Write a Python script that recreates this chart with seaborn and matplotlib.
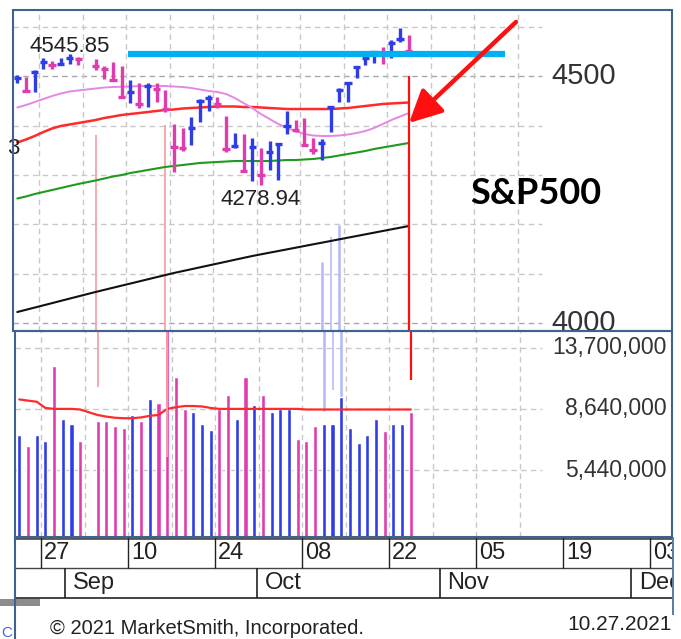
import numpy as np
import pandas as pd
import matplotlib
matplotlib.use("Agg")
import matplotlib.pyplot as plt
from matplotlib.patches import Rectangle
import seaborn as sns

# S&P 500 daily bars (25 Aug - 27 Oct 2021, 6 Sep holiday)
highs = [4501.7, 4498.5, 4513.3, 4537.4, 4531.4, 4537.1, 4545.85, 4539.5,
         4535.4, 4521.8, 4529.9, 4520.5, 4492.8, 4485.7, 4486.9, 4485.9, 4471.5,
         4403.0, 4394.9, 4416.8, 4454.0, 4463.1, 4457.3, 4419.5, 4385.5, 4382.6,
         4375.2, 4355.5, 4369.2, 4365.6, 4430.0, 4412.3, 4415.9, 4374.9, 4372.9,
         4439.7, 4475.8, 4488.8, 4520.4, 4540.9, 4551.4, 4559.7, 4572.6, 4598.5, 4584.6]
lows = [4485.7, 4468.3, 4468.4, 4513.8, 4515.8, 4522.0, 4524.7, 4522.4,
        4513.0, 4494.0, 4492.1, 4457.7, 4446.4, 4435.5, 4438.4, 4447.5, 4427.8,
        4305.9, 4348.0, 4360.2, 4406.7, 4430.3, 4436.2, 4346.3, 4355.1, 4306.2,
        4288.5, 4278.94, 4309.9, 4290.5, 4383.7, 4386.2, 4360.6, 4342.1, 4329.9,
        4386.1, 4447.7, 4447.5, 4496.4, 4522.0, 4526.9, 4524.0, 4537.4, 4569.2, 4551.7]
closes = [4496.2, 4470.0, 4509.4, 4528.8, 4522.7, 4524.1, 4537.0, 4535.4,
          4520.0, 4514.1, 4493.3, 4458.6, 4468.7, 4443.1, 4480.7, 4473.8, 4433.0,
          4357.7, 4354.2, 4395.6, 4449.0, 4455.5, 4443.1, 4352.6, 4359.5, 4307.5,
          4357.0, 4300.5, 4345.7, 4363.6, 4399.8, 4391.3, 4361.2, 4350.7, 4363.8,
          4438.3, 4471.4, 4486.5, 4519.6, 4536.2, 4549.8, 4544.9, 4566.5, 4574.8, 4551.7]
prev_close = 4486.2

# volume in millions
volume_m = [7.09, 6.52, 7.09, 6.78, 11.98, 8.0, 7.71, 6.78,
            7.88, 7.88, 7.61, 7.49, 8.25, 7.88, 9.31, 9.01, 16.5,
            11.03, 8.63, 8.42, 7.71, 7.37, 8.63, 9.6, 8.0, 11.03,
            8.88, 9.6, 8.42, 8.64, 8.64, 6.88, 6.78, 7.61, 7.71,
            7.71, 9.48, 7.5, 6.66, 7.09, 8.0, 7.33, 7.71, 7.71, 8.42]
vol_ma_m = [9.28, 9.2, 9.12, 8.7, 8.64, 8.64, 8.64, 8.6,
            8.25, 8.15, 8.08, 8.05, 8.05, 8.1, 8.2, 8.25, 8.64,
            8.75, 8.83, 8.83, 8.8, 8.7, 8.64, 8.64, 8.64, 8.64,
            8.64, 8.64, 8.64, 8.64, 8.64, 8.64, 8.6, 8.6, 8.6,
            8.6, 8.6, 8.6, 8.6, 8.6, 8.6, 8.6, 8.6, 8.6, 8.6]

# moving averages
ma_21 = [4436.8, 4441.8, 4447.9, 4454.0, 4460.1, 4465.1, 4469.2, 4471.2,
         4475.3, 4477.3, 4478.3, 4478.9, 4479.3, 4480.3, 4480.3, 4480.3, 4480.3,
         4479.3, 4478.3, 4476.3, 4473.2, 4470.2, 4468.2, 4464.1, 4456.0, 4445.9,
         4435.7, 4423.6, 4413.4, 4403.3, 4395.2, 4389.1, 4383.0, 4380.0, 4379.0,
         4379.0, 4380.0, 4382.0, 4385.1, 4389.1, 4395.2, 4403.3, 4411.4, 4418.5, 4425.6]
ma_50 = [4365.8, 4371.9, 4379.0, 4387.1, 4394.2, 4399.3, 4402.3, 4405.3,
         4411.4, 4415.5, 4418.5, 4421.6, 4423.6, 4425.6, 4427.6, 4429.7, 4431.7,
         4432.7, 4434.7, 4435.7, 4436.8, 4437.8, 4438.8, 4438.8, 4438.8, 4437.8,
         4437.8, 4436.8, 4435.7, 4434.7, 4433.7, 4433.7, 4433.7, 4433.7, 4433.7,
         4433.7, 4434.7, 4435.7, 4437.8, 4439.8, 4441.8, 4443.9, 4444.9, 4445.9, 4446.9]
ma_100 = [4252.3, 4256.4, 4261.4, 4265.5, 4269.5, 4273.6, 4277.7, 4281.7,
          4288.8, 4292.8, 4296.9, 4299.9, 4304.0, 4307.0, 4310.1, 4313.1, 4316.2,
          4318.2, 4320.2, 4322.2, 4324.3, 4325.3, 4326.3, 4327.3, 4328.3, 4328.3,
          4328.3, 4328.3, 4328.3, 4329.3, 4330.3, 4330.3, 4331.4, 4332.4, 4334.4,
          4336.4, 4339.5, 4342.5, 4345.5, 4348.6, 4352.6, 4355.7, 4358.7, 4361.8, 4364.8]
ma_200 = [4022.2, 4026.7, 4031.2, 4035.7, 4040.2, 4044.8, 4049.3, 4053.8,
          4062.8, 4067.1, 4071.4, 4075.7, 4079.9, 4084.2, 4088.5, 4092.8, 4097.0,
          4101.3, 4105.1, 4108.9, 4112.8, 4116.6, 4120.4, 4124.2, 4128.1, 4131.9,
          4135.7, 4139.1, 4142.5, 4145.8, 4149.2, 4152.6, 4156.0, 4159.4, 4162.7,
          4166.1, 4169.5, 4172.9, 4176.2, 4179.6, 4183.0, 4186.4, 4189.8, 4193.1, 4196.5]

price_ticks = [4500, 4000]
vol_ticks_m = [13.7, 8.64, 5.44]

# trading-day slots (weekdays; holiday keeps an empty slot)
slots = pd.bdate_range("2021-08-25", "2021-12-10")
bar_dates = slots[(slots <= "2021-10-27") & (slots != "2021-09-06")]
idx = np.array([slots.get_loc(d) for d in bar_dates])

df = pd.DataFrame({"idx": idx, "high": highs, "low": lows, "close": closes,
                   "vol": np.array(volume_m) * 1e6, "vol_ma": np.array(vol_ma_m) * 1e6,
                   "ma21": ma_21, "ma50": ma_50, "ma100": ma_100, "ma200": ma_200})
df["dir"] = np.where(np.diff([prev_close] + closes) >= 0, "up", "down")

BLUE = "#2e3de6"
PINK = "#e03cb0"
pal = {"up": BLUE, "down": PINK}
GRID = "#c8c8c8"
FRAME = "#3f6390"

sns.set_style("white")
plt.rcParams["font.family"] = ["Liberation Sans", "DejaVu Sans"]

W, H = 681, 639
fig = plt.figure(figsize=(W / 100, H / 100), dpi=100)


def px_axes(x0, y0, x1, y1):
    return fig.add_axes([x0 / W, 1 - y1 / H, (x1 - x0) / W, (y1 - y0) / H])


STEP = 8.7
P0 = 17.3   # pixel of slot 0 in price panel
V0 = 19.3   # pixel of slot 0 in volume panel

# ---------------- price panel ----------------
ax = px_axes(13, 10, 672, 331)
ax.set_xlim((13 - P0) / STEP, (672 - P0) / STEP)
ax.set_ylim(3983.7, 4634.4)
grid_end = (542 - P0) / STEP
for lvl in range(4000, 4700, 100):
    ax.hlines(lvl, ax.get_xlim()[0], grid_end, color="#a8a8a8" if lvl in price_ticks else GRID,
              lw=1, ls=(0, (4, 3)), zorder=0)
for g in np.arange(2.5, 60, 5):
    ax.vlines(g, 3983.7, 4634.4, color=GRID, lw=1, ls=(0, (4, 3)), zorder=0)

sns.lineplot(data=df, x="idx", y="ma200", color="#111111", lw=1.5, ax=ax)
sns.lineplot(data=df, x="idx", y="ma100", color="#1e9a1e", lw=1.5, ax=ax)
sns.lineplot(data=df, x="idx", y="ma50", color="#ff2a2a", lw=1.8, ax=ax)
sns.lineplot(data=df, x="idx", y="ma21", color="#e488e4", lw=1.4, ax=ax)

cols = df["dir"].map(pal)
ax.vlines(df["idx"], df["low"], df["high"], colors=cols, lw=2.4, zorder=3)
ax.hlines(df["close"], df["idx"] - 0.42, df["idx"] + 0.42, colors=cols, lw=2.4, zorder=3)

# user drawn marks: prior high of the base (Sep) and the October low
early = df[df["idx"] < 20]
hi_i = early["high"].idxmax()
lo_i = df["low"].idxmin()
peak = df.loc[hi_i, "high"]
trough = df.loc[lo_i, "low"]
ax.hlines(peak, (128 - P0) / STEP, (505 - P0) / STEP, color="#00b0f0", lw=4.5, zorder=4)
last = df["idx"].iloc[-1]
ax.vlines(last, 4500, 3983.7, color="#ff1010", lw=1.6, zorder=4)
ax.vlines(9, 4381, 3983.7, color="#f7a3a8", lw=1.3, zorder=1)
ax.vlines(17, 4401, 3983.7, color="#f7a3a8", lw=1.3, zorder=1)
for i, top in [(35, 4124), (36, 4174), (37, 4199)]:
    ax.vlines(i, top, 3983.7, color="#b0b8fa", lw=1.8 if i != 36 else 1.1, zorder=1)

ax.text(df.loc[hi_i, "idx"] - 4.6, peak + 13.6, f"{peak:.2f}", fontsize=16,
        ha="left", va="center", color="#222222")
ax.text(df.loc[lo_i, "idx"] - 4.7, trough - 29.6, f"{trough:.2f}", fontsize=16,
        ha="left", va="center", color="#222222")
ax.text(ax.get_xlim()[0], 4353, "3", fontsize=16, ha="center", va="center", color="#222222")
for p in price_ticks:
    ax.text((551 - P0) / STEP, p, str(p), fontsize=21, ha="left", va="center", color="#333333")
ax.set_xticks([])
ax.set_yticks([])
ax.set_xlabel("")
ax.set_ylabel("")
for s in ax.spines.values():
    s.set_visible(False)

# ---------------- volume panel ----------------
axv = px_axes(15, 331, 672, 537)
sns.barplot(data=df, x="idx", y="vol", hue="dir", palette=pal, native_scale=True,
            width=0.48, dodge=False, errorbar=None, legend=False, saturation=1,
            ax=axv, zorder=3)
sns.lineplot(data=df, x="idx", y="vol_ma", color="#ff2a2a", lw=1.6, ax=axv, zorder=4)
axv.set_yscale("log")
axv.set_xlim((15 - V0) / STEP, (672 - V0) / STEP)
axv.set_ylim(3.276e6, 15.58e6)
vgrid_end = (542 - V0) / STEP
for v in vol_ticks_m:
    axv.hlines(v * 1e6, axv.get_xlim()[0], vgrid_end, color=GRID, lw=1, ls=(0, (4, 3)), zorder=0)
    axv.text((667 - V0) / STEP, v * 1e6, f"{int(round(v * 1e6)):,}", fontsize=16.5,
             ha="right", va="center", color="#333333")
for g in np.arange(2.5, 60, 5):
    axv.vlines(g, 3.276e6, 15.58e6, color=GRID, lw=1, ls=(0, (4, 3)), zorder=0)
axv.vlines(last, 10.75e6, 15.58e6, color="#ff1010", lw=1.6, zorder=5)
axv.vlines(9, 10.2e6, 15.58e6, color="#f7a3a8", lw=1.3, zorder=5)
axv.vlines(17, 6.0e6, 15.58e6, color="#f7a3a8", lw=1.3, zorder=5)
for i, bot in [(35, 8.5e6), (36, 9.97e6), (37, 9.4e6)]:
    axv.vlines(i, bot, 15.58e6, color="#b0b8fa", lw=1.8 if i != 36 else 1.1, zorder=2)
axv.set_xticks([])
axv.set_yticks([])
axv.minorticks_off()
axv.set_xlabel("")
axv.set_ylabel("")
for s in axv.spines.values():
    s.set_visible(False)

# ---------------- date strip ----------------
axd = px_axes(15, 537, 672, 639)
axd.set_xlim((15 - V0) / STEP, (672 - V0) / STEP)
axd.set_ylim(102, 0)
axd.axis("off")
axd.hlines(0.5, *axd.get_xlim(), color="#555555", lw=2)
axd.hlines(31, *axd.get_xlim(), color="#444444", lw=1)
axd.hlines(61, *axd.get_xlim(), color="#222222", lw=1.2)
day_pos = np.arange(2, len(slots), 10)
for p in day_pos:
    axd.vlines(p + 0.5, 0, 31, color="#222222", lw=1)
    axd.text(p + 0.85, 16, slots[p].strftime("%d"), fontsize=17, ha="left", va="center",
             color="#222222", clip_on=True)
month_first = [slots[slots.month == m][0] for m in (9, 10, 11, 12)]
for d in month_first:
    p = slots.get_loc(d) + 0.3
    axd.vlines(p, 31, 61, color="#222222", lw=1.2)
    axd.text(p + 0.9, 46, d.strftime("%b"), fontsize=17, ha="left", va="center",
             color="#222222", clip_on=True)

# ---------------- overlay: frames and notes ----------------
ov = fig.add_axes([0, 0, 1, 1])
ov.set_xlim(0, W)
ov.set_ylim(H, 0)
ov.axis("off")
ov.add_patch(Rectangle((13, 10), 659, 321, fill=False, ec=FRAME, lw=1.5))
ov.add_patch(Rectangle((15, 331), 657, 206, fill=False, ec=FRAME, lw=1.5))
ov.vlines(15, 537, H, color=FRAME, lw=1.5)
ov.vlines(673, 537, 615, color=FRAME, lw=1.2)
ov.add_patch(Rectangle((0, 599), 40, 7, color="#8c8c8c", lw=0))
ov.text(1, 633, "C", fontsize=11, color="#3b6fd6", ha="left", va="center")
ov.text(50, 628, "\u00a9 2021 MarketSmith, Incorporated.", fontsize=14.5, ha="left",
        va="center", color="#222222")
ov.text(672, 624, "10.27.2021", fontsize=15, ha="right", va="center", color="#222222")
ov.text(536, 194, "S&P500", fontsize=26, fontweight="bold", ha="center", va="center",
        color="black", family=["Lato", "DejaVu Sans"])
ov.annotate("", xy=(409, 123), xytext=(516, 22),
            arrowprops=dict(arrowstyle="-|>,head_length=0.9,head_width=0.45", color="#ff1010",
                            lw=3.2, mutation_scale=22, shrinkA=0, shrinkB=0))

fig.savefig("out.png", dpi=100)
